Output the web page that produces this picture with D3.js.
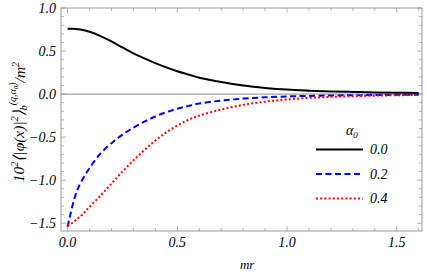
<!DOCTYPE html>
<html>
<head>
<meta charset="utf-8">
<script src="https://cdn.jsdelivr.net/npm/d3@7"></script>
<style>
body{margin:0;background:#fff;}
svg text{font-family:"Liberation Serif",serif;font-style:italic;}
</style>
</head>
<body>
<div id="chart"></div>
<script>
const width = 427, height = 276;
const margin = {left:61, right:5, top:8, bottom:45};

// readings from the picture
const xs      = [0,0.01,0.02,0.035,0.05,0.075,0.1,0.15,0.2,0.25,0.3,0.35,0.4,0.45,0.5,0.55,0.6,0.7,0.8,0.9,1.0,1.1,1.2,1.3,1.4,1.5,1.6];
const alpha00 = [0.76,0.76,0.759,0.756,0.752,0.741,0.724,0.674,0.612,0.542,0.474,0.415,0.36,0.31,0.265,0.228,0.19,0.14,0.10,0.072,0.052,0.04,0.031,0.025,0.02,0.016,0.013];
const alpha02 = [-1.54,-1.43,-1.32,-1.18,-1.08,-0.96,-0.86,-0.69,-0.57,-0.47,-0.39,-0.32,-0.26,-0.21,-0.17,-0.138,-0.11,-0.075,-0.052,-0.037,-0.027,-0.021,-0.016,-0.013,-0.011,-0.009,-0.008];
const alpha04 = [-1.53,-1.515,-1.5,-1.47,-1.44,-1.38,-1.31,-1.18,-1.04,-0.9,-0.77,-0.65,-0.54,-0.445,-0.365,-0.3,-0.25,-0.18,-0.125,-0.088,-0.062,-0.044,-0.032,-0.024,-0.018,-0.013,-0.01];
const legendTitle = "α";
const legendLabels = ["0.0","0.2","0.4"];
const xTicks = [0,0.5,1.0,1.5];
const yTicks = [-1.5,-1.0,-0.5,0,0.5,1.0];

const series = [
  {vals:alpha00, color:"#000", dash:null},
  {vals:alpha02, color:"#0000ff", dash:"6,3.5"},
  {vals:alpha04, color:"#ff0000", dash:"2,2.2"}
];

let svg = d3.select("#chart").append("svg")
  .attr("width", width).attr("height", height);

let x = d3.scaleLinear().domain([-0.03,1.615]).range([margin.left, width-margin.right]);
let y = d3.scaleLinear().domain([-1.59,1.0]).range([height-margin.bottom, margin.top]);

const x0 = margin.left, x1 = width-margin.right, y0 = height-margin.bottom, y1 = margin.top;
const frameColor = "#999";

// zero line
svg.append("line").attr("x1",x0).attr("x2",x1).attr("y1",y(0)).attr("y2",y(0))
  .attr("stroke","#888").attr("stroke-width",1);

// ticks, all four sides, pointing in
let xMinor = d3.range(0,1.61,0.1);
let yMinor = d3.range(-1.5,1.01,0.1);
let tg = svg.append("g").attr("stroke",frameColor).attr("stroke-width",0.8);
xMinor.forEach(v=>{
  let major = xTicks.some(t=>Math.abs(t-v)<1e-6);
  let L = major?5:2.8;
  tg.append("line").attr("x1",x(v)).attr("x2",x(v)).attr("y1",y0).attr("y2",y0-L);
  tg.append("line").attr("x1",x(v)).attr("x2",x(v)).attr("y1",y1).attr("y2",y1+L);
});
yMinor.forEach(v=>{
  let major = yTicks.some(t=>Math.abs(t-v)<1e-6);
  let L = major?5:2.8;
  tg.append("line").attr("y1",y(v)).attr("y2",y(v)).attr("x1",x0).attr("x2",x0+L);
  tg.append("line").attr("y1",y(v)).attr("y2",y(v)).attr("x1",x1).attr("x2",x1-L);
});

// frame
svg.append("rect").attr("x",x0).attr("y",y1).attr("width",x1-x0).attr("height",y0-y1)
  .attr("fill","none").attr("stroke",frameColor).attr("stroke-width",1);

// tick labels
svg.selectAll(".xl").data(xTicks).join("text")
  .attr("x",d=>x(d)).attr("y",y0+16).attr("text-anchor","middle")
  .attr("font-size",14).text(d=>d.toFixed(1));
svg.selectAll(".yl").data(yTicks).join("text")
  .attr("x",x0-5).attr("y",d=>y(d)+4.5).attr("text-anchor","end")
  .attr("font-size",14).text(d=>(d<0?"\u2212":"")+Math.abs(d).toFixed(1));

// curves
let line = d3.line().x((d,i)=>x(xs[i])).y(d=>y(d)).curve(d3.curveCatmullRom.alpha(0.5));
series.forEach(s=>{
  svg.append("path").attr("d",line(s.vals)).attr("fill","none")
    .attr("stroke",s.color).attr("stroke-width",2)
    .attr("stroke-dasharray",s.dash);
});

// axis title x
svg.append("text").attr("x",(x(0)+x(1.6))/2+4).attr("y",269).attr("text-anchor","middle")
  .attr("font-size",13).text("mr");

// y title
let yt = svg.append("text").attr("transform","translate(24,122) rotate(-90)")
  .attr("text-anchor","middle").attr("font-size",15.5);
yt.append("tspan").text("10");
yt.append("tspan").attr("font-size",10).attr("dy",-6).text("2");
yt.append("tspan").attr("dy",6).text("\u27E8|\u03C6(x)|");
yt.append("tspan").attr("font-size",10).attr("dy",-6).text("2");
yt.append("tspan").attr("dy",6).text("\u27E9");
yt.append("tspan").attr("font-size",10).attr("dy",3).text("b");
yt.append("tspan").attr("font-size",10).attr("dy",-11).text("(q,\u03B1");
yt.append("tspan").attr("font-size",7).attr("dy",2).text("0");
yt.append("tspan").attr("font-size",10).attr("dy",-2).text(")");
yt.append("tspan").attr("dy",9).text("/m");
yt.append("tspan").attr("font-size",10).attr("dy",-6).text("2");

// legend
let lg = svg.append("g");
let lt = lg.append("text").attr("x",346).attr("y",135).attr("font-size",14);
lt.append("tspan").text(legendTitle);
lt.append("tspan").attr("font-size",9).attr("dy",3).text("0");
series.forEach((s,i)=>{
  let yy = 149.5 + i*24.5;
  lg.append("line").attr("x1",316).attr("x2",363).attr("y1",yy).attr("y2",yy)
    .attr("stroke",s.color).attr("stroke-width",2).attr("stroke-dasharray",s.dash);
  lg.append("text").attr("x",370).attr("y",yy+4.5).attr("font-size",14).text(legendLabels[i]);
});
</script>
</body>
</html>
